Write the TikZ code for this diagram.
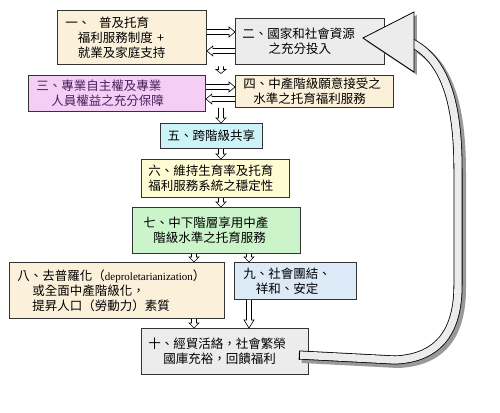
\documentclass[tikz,border=0pt]{standalone}
\usepackage{fontspec}
\setmainfont{Noto Sans CJK TC}
\newfontfamily\latfont{Liberation Serif}
\usetikzlibrary{calc}
\definecolor{beige}{HTML}{FBF1DA}
\definecolor{greybox}{HTML}{ECECEC}
\definecolor{pinkbox}{HTML}{F5CEF5}
\definecolor{cyanbox}{HTML}{CCF4F8}
\definecolor{yellowbox}{HTML}{FFFBD2}
\definecolor{greenbox}{HTML}{CBF4CB}
\definecolor{bluebox}{HTML}{DCE9F7}
\definecolor{purpletext}{HTML}{4A1E5C}
\newcommand\harr[3][6]{%
  \coordinate (hs) at (#2);
  \coordinate (he) at (#3);
  \coordinate (hb) at ($(he)!#1pt!(hs)$);
  \fill[white] ($(hs)!2.5pt!90:(he)$) -- ($(hb)!2.5pt!90:(he)$) -- ($(hb)!5pt!90:(he)$) -- (he) -- ($(hb)!5pt!-90:(he)$) -- ($(hb)!2.5pt!-90:(he)$) -- ($(hs)!2.5pt!-90:(he)$) -- cycle;
  \draw[arrline] ($(hs)!2.5pt!90:(he)$) -- ($(hb)!2.5pt!90:(he)$) -- ($(hb)!5pt!90:(he)$) -- (he) -- ($(hb)!5pt!-90:(he)$) -- ($(hb)!2.5pt!-90:(he)$) -- ($(hs)!2.5pt!-90:(he)$);
}
\newcommand\bigshaft[1]{\draw[#1] (t0) -- (395,360) .. controls (440,358) and (458,330) .. (458,285) -- (458,170) .. controls (458,110) and (448,62) .. (hbase);}
\begin{document}
\begin{tikzpicture}[x=1pt,y=-1pt,
  box/.style={draw=black!80, line width=0.9pt, anchor=north west, inner ysep=0pt,
    font=\fontsize{12.5}{15}\selectfont, align=left},
  arrline/.style={draw=black, line width=0.6pt, line join=miter}]
\fill[white] (0,0) rectangle (500,412);
\useasboundingbox (0,0) rectangle (500,412);

\node[box, fill=beige, minimum width=149, minimum height=54, inner xsep=8pt, text width=133pt] (b1) at (57,10)
  {一、\hspace{0.7em}普及托育\\\hspace*{1em}福利服務制度 +\\\hspace*{1em}就業及家庭支持};
\node[box, fill=greybox, minimum width=149, minimum height=46, inner xsep=7pt, text width=135pt] (b2) at (235,18)
  {二、國家和社會資源\\\hspace*{2.1em}之充分投入};
\node[box, fill=pinkbox, minimum width=177, minimum height=36, inner xsep=8pt, text width=161pt, text=purpletext] (b3) at (28,75)
  {三、專業自主權及專業\\\hspace*{1.2em}人員權益之充分保障};
\node[box, fill=beige, minimum width=158, minimum height=32, inner xsep=8pt, text width=142pt] (b4) at (235,75)
  {四、中產階級願意接受之\\\hspace*{0.8em}水準之托育福利服務};
\node[box, fill=cyanbox, minimum width=102, minimum height=25, inner xsep=4pt, text width=94pt, align=center] (b5) at (160,123)
  {五、跨階級共享};
\node[box, fill=yellowbox, minimum width=148, minimum height=38, inner xsep=7pt, text width=134pt] (b6) at (141,159)
  {六、維持生育率及托育\\福利服務系統之穩定性};
\node[box, fill=greenbox, minimum width=168, minimum height=46, inner xsep=11pt, text width=146pt] (b7) at (132,207)
  {七、中下階層享用中產\\\hspace*{0.8em}階級水準之托育服務};
\node[box, fill=beige, minimum width=215, minimum height=56, inner xsep=8pt, text width=199pt] (b8) at (9,262)
  {八、去普羅化（{\latfont\fontsize{11}{15}\selectfont deproletarianization}）\\\hspace*{1.2em}或全面中產階級化，\\\hspace*{1.2em}提昇人口（勞動力）素質};
\node[box, fill=bluebox, minimum width=122, minimum height=37, inner xsep=9pt, text width=104pt] (b9) at (234,262)
  {九、社會團結、\\\hspace*{1em}祥和、安定};
\node[box, fill=greybox, minimum width=167, minimum height=46, inner xsep=7pt, text width=153pt] (b10) at (141,328)
  {十、經貿活絡，社會繁榮\\\hspace*{1.2em}國庫充裕，回饋福利};

% horizontal double arrows
\harr{$(b1.north east)+(0,22)$}{$(b2.north west)+(0,14)$}
\harr{$(b2.north west)+(0,33)$}{$(b1.north east)+(0,41)$}
\harr{$(b3.north east)+(0,12)$}{$(b4.north west)+(0,12)$}
\harr{$(b4.north west)+(0,24)$}{$(b3.north east)+(0,24)$}

% vertical arrows
\coordinate (mid) at ($(b1.east)!0.5!(b2.west)$);
\coordinate (c1) at ($(b7.south west)+(62,0)$);
\coordinate (c2) at ($(b7.south west)+(117,0)$);
\harr[4]{$(mid |- b1.south)+(0,1.5)$}{$(mid |- b4.north)+(0,-1.5)$}
\harr[5]{mid |- b4.south}{mid |- b5.north}
\harr[5]{mid |- b5.south}{mid |- b6.north}
\harr[5]{mid |- b6.south}{mid |- b7.north}
\harr[5]{c1}{c1 |- b8.north}
\harr[5]{c2}{c2 |- b9.north}
\harr[5]{c1 |- b8.south}{c1 |- b10.north}
\harr[8]{c2 |- b9.south}{c2 |- b10.north}

% big curved arrow from b10 back to b2
\coordinate (t0) at ($(b10.north east)+(-10,27)$);
\coordinate (tip) at ($(b2.north east)+(-22,20)$);
\coordinate (hbtop) at ($(tip)+(51,-26)$);
\coordinate (hbbot) at ($(tip)+(51,34)$);
\coordinate (hbase) at ($(tip)+(49,5)$);
\bigshaft{line width=10pt, black!40, transform canvas={shift={(3,3)}}}
\fill[black!40, transform canvas={shift={(3,3)}}] (tip) -- (hbtop) -- (hbbot) -- cycle;
\bigshaft{line width=9pt, black}
\bigshaft{line width=7.4pt, greybox}
\draw[line width=0.8pt] ($(t0)+(0,-4.5)$) -- ($(t0)+(0,4.5)$);
\filldraw[fill=greybox, draw=black, line width=0.8pt, line join=miter] (tip) -- (hbtop) -- (hbbot) -- cycle;
\end{tikzpicture}
\end{document}
